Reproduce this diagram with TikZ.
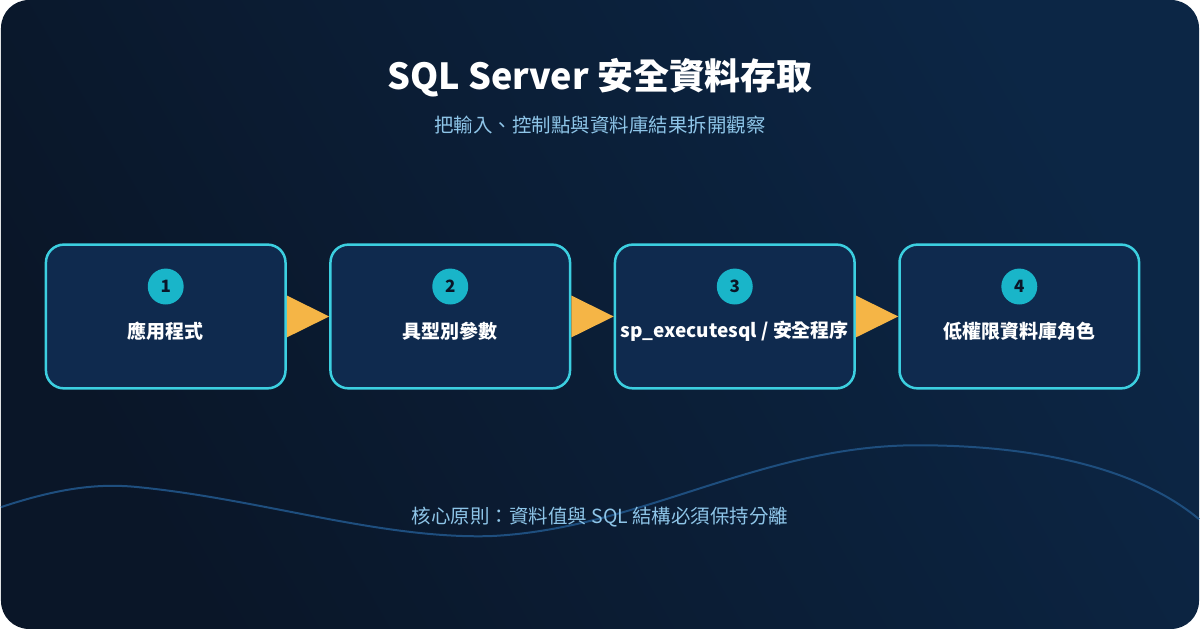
\documentclass[tikz,border=0pt]{standalone}
\usepackage{fontspec}
\setmainfont{Noto Sans CJK TC}
\begin{document}
\definecolor{bgA}{HTML}{0A1628}
\definecolor{bgB}{HTML}{0C2645}
\definecolor{boxf}{HTML}{0F2A4E}
\definecolor{boxd}{HTML}{3CCFE0}
\definecolor{circ}{HTML}{19B5C9}
\definecolor{arr}{HTML}{F5B546}
\definecolor{wave}{HTML}{1E4E7E}
\definecolor{sub}{HTML}{8EC5E8}
\begin{tikzpicture}[x=1pt,y=-1pt,
  box/.style={draw=boxd,line width=2.5pt,fill=boxf,rounded corners=18pt,minimum width=240pt,minimum height=144pt,inner sep=0pt},
  num/.style={circle,fill=circ,minimum size=36pt,inner sep=0pt,font=\bfseries\fontsize{17}{17}\selectfont,text=bgA},
  lab/.style={font=\bfseries\fontsize{19}{19}\selectfont,text=white},
  tri/.style={fill=arr}]
\fill[white] (0,0) rectangle (1200,630);
\shade[rounded corners=28pt,left color=bgA,right color=bgB,shading angle=120] (0,0) rectangle (1200,630);
\draw[wave,line width=2pt] (0,508) .. controls (60,488) and (100,484) .. (138,488)
  .. controls (260,500) and (380,540) .. (490,537)
  .. controls (640,530) and (760,446) .. (918,446)
  .. controls (1040,446) and (1140,470) .. (1200,520);
\node[font=\bfseries\fontsize{36}{36}\selectfont,text=white] (title) at (600,78) {SQL Server 安全資料存取};
\node[font=\fontsize{19.5}{19.5}\selectfont,text=sub] (subt) at (600,125) {把輸入、控制點與資料庫結果拆開觀察};
\foreach \i/\x/\t in {1/165/應用程式,2/450/具型別參數,3/735/{sp\_executesql / 安全程序},4/1020/低權限資料庫角色}{
  \node[box] (b\i) at (\x,317) {};
  \node[num] (n\i) at (\x,287) {\i};
  \node[lab] (l\i) at (\x,332) {\t};
}
\foreach \a/\b in {1/2,2/3,3/4}{
  \coordinate (p\a) at ([yshift=-21pt]b\a.east);
  \coordinate (q\a) at ([yshift=21pt]b\a.east);
  \fill[arr] (p\a) -- (b\b.west) -- (q\a) -- cycle;
}
\node[font=\fontsize{19.5}{19.5}\selectfont,text=sub] (foot) at (600,518) {核心原則：資料值與 SQL 結構必須保持分離};
\end{tikzpicture}
\end{document}
